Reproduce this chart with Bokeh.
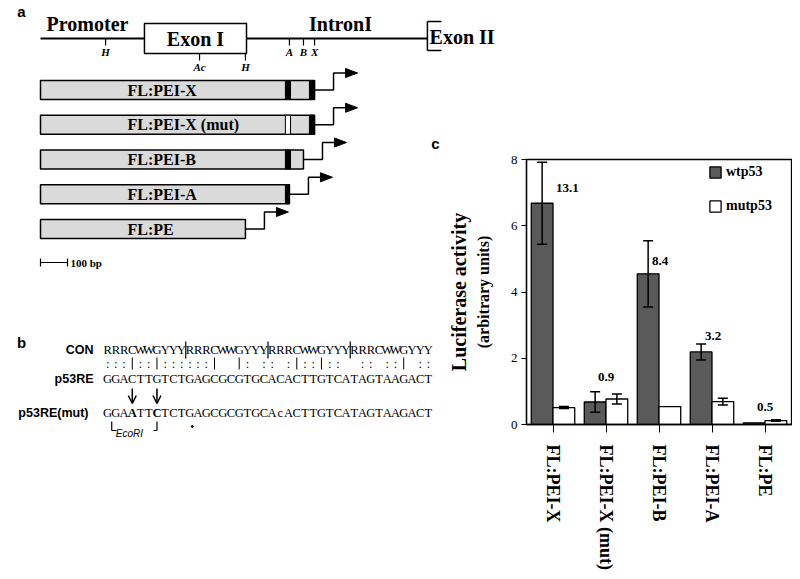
import numpy as np
from bokeh.plotting import figure
from bokeh.layouts import column, row
from bokeh.models import (Range1d, FactorRange, ColumnDataSource, Whisker, TeeHead,
                          Arrow, OpenHead, Legend, LegendItem, LinearAxis, FixedTicker)
from bokeh.transform import dodge
from bokeh.core.properties import value, field
from bokeh.embed import file_html
from bokeh.resources import INLINE

SERIF = value("Liberation Serif")
SANS = value("Liberation Sans")

# ---------------- data: panel c ----------------
constructs = ["FL:PEI-X", "FL:PEI-X (mut)", "FL:PEI-B", "FL:PEI-A", "FL:PE"]
wt_mean = [6.68, 0.68, 4.55, 2.19, 0.05]
wt_err = [1.24, 0.31, 1.00, 0.24, 0.0]
mut_mean = [0.51, 0.77, 0.54, 0.69, 0.12]
mut_err = [0.03, 0.15, 0.0, 0.10, 0.02]
fold_labels = ["13.1", "0.9", "8.4", "3.2", "0.5"]
fold_label_y = [7.15, 1.43, 4.95, 2.66, 0.52]
fold_label_dx = [0.27, 0.0, 0.02, 0.02, 0.0]
y_ticks = [0, 2, 4, 6, 8]
series_names = ["wtp53", "mutp53"]

# ---------------- data: panel a (bp) ----------------
exon1_bp = [385, 763]
exon2_bp = 1433
site_names = ["H", "Ac", "H", "A", "B", "X"]
site_bp = [241, 589, 759, 922, 974, 1015]
construct_end_bp = [1015, 1015, 974, 922, 759]
p53re_bp = [907, 926]
p53re_mutated = [False, True, False, False, False]
xsite_box_bp = [996, 1015]
scale_bar_bp = 100

# ---------------- data: panel b ----------------
con_seq = "RRRCWWGYYY" * 4
p53re_seq = "GGACTTGTCTGAGCGCGTGCACACTTGTCATAGTAAGACT"
p53re_mut_seq = "GGAATTCTCTGAGCGCGTGCAcACTTGTCATAGTAAGACT"
iupac = {"R": "AG", "Y": "CT", "W": "AT", "A": "A", "C": "C", "G": "G", "T": "T"}

# ---------------- layout helpers (page pixel geometry) ----------------
PX_PER_BP = 0.27
BP0_X = 40.0


def bp(x):
    return (x - BP0_X) / PX_PER_BP


CH_X0 = 103.0
CH_W = 8.225


def ch(x):
    return (x - CH_X0) / CH_W


def canvas(w, h, xr, ytop, ybot):
    f = figure(width=w, height=h, x_range=Range1d(*xr), y_range=Range1d(ybot, ytop),
               x_axis_type=None, y_axis_type=None, output_backend="svg",
               toolbar_location=None, min_border=0, outline_line_color=None)
    return f


SPLIT_X, SPLIT_Y1, SPLIT_Y2, BOTTOM, RIGHT = 444, 135, 300, 575, 792
T = canvas(RIGHT, SPLIT_Y1, (bp(0), bp(RIGHT)), 0, SPLIT_Y1)
L1 = canvas(SPLIT_X, SPLIT_Y2 - SPLIT_Y1, (bp(0), bp(SPLIT_X)), SPLIT_Y1, SPLIT_Y2)
L2 = canvas(SPLIT_X, BOTTOM - SPLIT_Y2, (ch(0), ch(SPLIT_X)), SPLIT_Y2, BOTTOM)

BLACK = "black"

# ---------------- panel a : gene map ----------------
MAP_Y, EX_T, EX_B = 38, 23, 53
T.text(x=[bp(21)], y=[11], text=["a"], text_font=SANS, text_font_style="bold", text_color=BLACK,
       text_font_size="15px", text_align="center", text_baseline="middle")
T.segment(x0=[0, exon1_bp[1]], y0=[MAP_Y, MAP_Y], x1=[exon1_bp[0], exon2_bp], y1=[MAP_Y, MAP_Y],
          line_color=BLACK, line_width=2)
T.quad(left=[exon1_bp[0]], right=[exon1_bp[1]], top=[EX_T], bottom=[EX_B],
       fill_color="white", line_color=BLACK, line_width=1.5)
br = 14 / PX_PER_BP
T.segment(x0=[exon2_bp, exon2_bp, exon2_bp], y0=[21, 21, 50],
          x1=[exon2_bp, exon2_bp + br, exon2_bp + br], y1=[50, 21, 50],
          line_color=BLACK, line_width=1.5)
T.text(x=[bp(87), (exon1_bp[0] + exon1_bp[1]) / 2, bp(340)], y=[23, MAP_Y, 23],
       text=["Promoter", "Exon I", "IntronI"], text_font=SERIF, text_font_style="bold",
       text_color=BLACK, text_font_size="20px", text_align="center", text_baseline="middle")
T.text(x=[exon2_bp + 8], y=[36], text=["Exon II"], text_font=SERIF, text_font_style="bold",
       text_color=BLACK, text_font_size="20px", text_align="left", text_baseline="middle")
on_exon = [exon1_bp[0] < s <= exon1_bp[1] + 5 for s in site_bp]
tick_y0 = [EX_B if e else MAP_Y for e in on_exon]
tick_y1 = [y + 7 for y in tick_y0]
lab_y = [y + 13 for y in tick_y0]
T.segment(x0=site_bp, x1=site_bp, y0=tick_y0, y1=tick_y1, line_color=BLACK, line_width=1.2)
T.text(x=site_bp, y=lab_y, text=site_names, text_font=SERIF, text_font_style="bold italic",
       text_color=BLACK, text_font_size="11px", text_align="center", text_baseline="middle")

# ---------------- panel a : constructs ----------------
ROW0, ROWSTEP, BAR_H = 89.5, 34.75, 19
STEP1, RISE, TIP, HEAD, HEAD_H = 19 / PX_PER_BP, 17, 43 / PX_PER_BP, 12 / PX_PER_BP, 4.5


def draw_constructs(f, idx):
    yc = [ROW0 + ROWSTEP * i for i in idx]
    ends = [construct_end_bp[i] for i in idx]
    f.quad(left=[0] * len(idx), right=ends, top=[y - BAR_H / 2 for y in yc],
           bottom=[y + BAR_H / 2 for y in yc], fill_color="#dadada", line_color=BLACK, line_width=1.5)
    el, er, et, eb, ec = [], [], [], [], []
    for i, y, e in zip(idx, yc, ends):
        if p53re_bp[0] < e:
            el.append(p53re_bp[0]); er.append(min(p53re_bp[1], e))
            et.append(y - BAR_H / 2); eb.append(y + BAR_H / 2)
            ec.append("white" if p53re_mutated[i] else BLACK)
        if xsite_box_bp[0] < e:
            el.append(xsite_box_bp[0]); er.append(min(xsite_box_bp[1], e))
            et.append(y - BAR_H / 2); eb.append(y + BAR_H / 2)
            ec.append(BLACK)
    if el:
        f.quad(left=el, right=er, top=et, bottom=eb, fill_color=ec, line_color=BLACK, line_width=1)
    f.text(x=[bp(127)] * len(idx), y=yc, text=[constructs[i] for i in idx], text_font=SERIF,
           text_font_style="bold", text_color=BLACK, text_font_size="16px",
           text_align="left", text_baseline="middle")
    xs = [[e, e + STEP1, e + STEP1, e + TIP - HEAD] for e in ends]
    ys = [[y, y, y - RISE, y - RISE] for y in yc]
    f.multi_line(xs=xs, ys=ys, line_color=BLACK, line_width=1.5)
    hx = [[e + TIP, e + TIP - HEAD, e + TIP - HEAD] for e in ends]
    hy = [[y - RISE, y - RISE - HEAD_H, y - RISE + HEAD_H] for y in yc]
    f.patches(xs=hx, ys=hy, fill_color=BLACK, line_color=BLACK, line_width=1)


draw_constructs(T, [0, 1])
draw_constructs(L1, [2, 3, 4])

SB_Y = 262
L1.segment(x0=[0, 0, scale_bar_bp], y0=[SB_Y, SB_Y - 4, SB_Y - 4],
           x1=[scale_bar_bp, 0, scale_bar_bp], y1=[SB_Y, SB_Y + 4, SB_Y + 4],
           line_color=BLACK, line_width=1.2)
L1.text(x=[scale_bar_bp + 11], y=[SB_Y], text=["%d bp" % scale_bar_bp], text_font=SERIF,
        text_font_style="bold", text_color=BLACK, text_font_size="11px",
        text_align="left", text_baseline="middle")
L1.text(x=[bp(435)], y=[143], text=["c"], text_font=SANS, text_font_style="bold",
        text_color=BLACK, text_font_size="15px", text_align="center", text_baseline="middle")

# ---------------- panel b : sequences ----------------
Y_CON, Y_MARK, Y_RE, Y_MUT = 349, 363, 378, 412
n = len(con_seq)
pos = list(np.arange(n) + 0.5)
marks = []
for c, s in zip(con_seq, p53re_seq):
    if c in "ACGT" and c == s:
        marks.append("|")
    elif s in iupac[c]:
        marks.append(":")
    else:
        marks.append(" ")
mut_style = ["bold" if m.upper() != s else "normal" for m, s in zip(p53re_mut_seq, p53re_seq)]

L2.text(x=[ch(21)], y=[342], text=["b"], text_font=SANS, text_font_style="bold", text_color=BLACK,
        text_font_size="15px", text_align="center", text_baseline="middle")
L2.text(x=[ch(93), ch(93), ch(88)], y=[Y_CON, Y_RE, Y_MUT], text=["CON", "p53RE", "p53RE(mut)"],
        text_font=SANS, text_font_style="bold", text_color=BLACK, text_font_size="12.5px",
        text_align="right", text_baseline="middle")
seq_kw = dict(text_font=SERIF, text_font_size="12.5px", text_color=BLACK,
              text_align="center", text_baseline="middle")
L2.text(x=pos, y=[Y_CON] * n, text=list(con_seq), **seq_kw)
colon_x = [p for p, m in zip(pos, marks) if m == ":"]
bar_x = [p for p, m in zip(pos, marks) if m == "|"]
L2.text(x=colon_x, y=[Y_MARK] * len(colon_x), text=[":"] * len(colon_x), **seq_kw)
L2.segment(x0=bar_x, x1=bar_x, y0=[Y_MARK - 6] * len(bar_x), y1=[Y_MARK + 6] * len(bar_x),
           line_color=BLACK, line_width=1)
L2.text(x=pos, y=[Y_RE] * n, text=list(p53re_seq), **seq_kw)
src_mut = ColumnDataSource(dict(x=pos, y=[Y_MUT] * n, t=list(p53re_mut_seq), fs=mut_style))
L2.text(x="x", y="y", text="t", text_font_style=field("fs"), source=src_mut, **seq_kw)
L2.segment(x0=[10, 20, 30], x1=[10, 20, 30], y0=[341] * 3, y1=[358] * 3,
           line_color=BLACK, line_width=1.2)
for i, (m, s) in enumerate(zip(p53re_mut_seq, p53re_seq)):
    if m.upper() != s:
        L2.add_layout(Arrow(x_start=i + 0.5, y_start=388, x_end=i + 0.5, y_end=403,
                            line_width=1.5, line_color=BLACK,
                            end=OpenHead(size=8, line_width=1.5, line_color=BLACK)))
eco0, eco1 = 1.0, 6.5
L2.segment(x0=[eco0, eco0, eco1, eco1], y0=[421, 430, 421, 430],
           x1=[eco0, eco0 + 0.6, eco1, eco1 - 0.4], y1=[430, 430, 430, 430],
           line_color=BLACK, line_width=1.2)
L2.text(x=[eco0 + 0.5], y=[433], text=["EcoRI"], text_font=SANS, text_font_style="italic",
        text_color=BLACK, text_font_size="10px", text_align="left", text_baseline="middle")
L2.scatter(x=[10.8], y=[426], size=2, color=BLACK)

# ---------------- panel c : bar chart ----------------
FRAME_L, FRAME_R, FRAME_T, FRAME_B = 526, 791, 159, 424
src = ColumnDataSource(dict(cat=constructs, wt=wt_mean, mut=mut_mean))
pc = figure(width=RIGHT - SPLIT_X, height=BOTTOM - SPLIT_Y1,
            x_range=FactorRange(*constructs), y_range=Range1d(0, 8),
            output_backend="svg", toolbar_location=None,
            min_border_left=FRAME_L - SPLIT_X, min_border_right=RIGHT - FRAME_R,
            min_border_top=FRAME_T - SPLIT_Y1, min_border_bottom=BOTTOM - FRAME_B)
pc.grid.visible = False
pc.outline_line_color = BLACK
pc.outline_line_width = 1.3

BW, OFF = 0.41, 0.205
r_wt = pc.vbar(x=dodge("cat", -OFF, range=pc.x_range), top="wt", width=BW, source=src,
               fill_color="#5a5a5a", line_color=BLACK, line_width=1.3)
r_mut = pc.vbar(x=dodge("cat", OFF, range=pc.x_range), top="mut", width=BW, source=src,
                fill_color="white", line_color=BLACK, line_width=1.3)

for means, errs, off in [(wt_mean, wt_err, -OFF), (mut_mean, mut_err, OFF)]:
    keep = [i for i in range(len(constructs)) if errs[i] > 0]
    es = ColumnDataSource(dict(cat=[constructs[i] for i in keep],
                               lo=[means[i] - errs[i] for i in keep],
                               hi=[means[i] + errs[i] for i in keep]))
    w = Whisker(source=es, base=dodge("cat", off, range=pc.x_range), lower="lo", upper="hi",
                dimension="height", line_color=BLACK, line_width=1.5, level="annotation",
                upper_head=TeeHead(size=10, line_width=1.5, line_color=BLACK),
                lower_head=TeeHead(size=10, line_width=1.5, line_color=BLACK))
    pc.add_layout(w)

for i in range(len(constructs)):
    s = ColumnDataSource(dict(cat=[constructs[i]], y=[fold_label_y[i]], t=[fold_labels[i]]))
    pc.text(x=dodge("cat", fold_label_dx[i], range=pc.x_range), y="y", text="t", source=s,
            text_font=SERIF, text_font_style="bold", text_font_size="13px", text_color=BLACK,
            text_align="center", text_baseline="middle")

yax = pc.yaxis[0]
yax.ticker = FixedTicker(ticks=y_ticks)
yax.major_tick_out = 5
yax.major_tick_in = 0
yax.minor_tick_out = 0
yax.minor_tick_in = 0
yax.axis_line_width = 1.3
yax.major_label_text_font = "Liberation Serif"
yax.major_label_text_font_size = "13px"
yax.major_label_text_color = BLACK
yax.major_label_standoff = 4
yax.axis_label = "(arbitrary units)"
yax.axis_label_text_font = "Liberation Serif"
yax.axis_label_text_font_style = "bold"
yax.axis_label_text_font_size = "16px"
yax.axis_label_text_color = BLACK
yax.axis_label_standoff = 16

outer = LinearAxis(ticker=FixedTicker(ticks=[]), axis_label="Luciferase activity",
                   axis_line_color=None, major_tick_out=0, major_tick_in=0,
                   minor_tick_out=0, minor_tick_in=0, major_label_standoff=0,
                   axis_label_standoff=2, axis_label_text_font="Liberation Serif",
                   axis_label_text_font_style="bold", axis_label_text_font_size="20px",
                   axis_label_text_color=BLACK)
pc.add_layout(outer, "left")

xax = pc.xaxis[0]
xax.major_label_orientation = "vertical"
xax.major_label_text_font = "Liberation Serif"
xax.major_label_text_font_style = "bold"
xax.major_label_text_font_size = "18px"
xax.major_label_text_color = BLACK
xax.major_tick_out = 8
xax.major_tick_in = 0
xax.major_label_standoff = 12
xax.axis_line_width = 1.5

LEG_PAD = 3
leg = Legend(items=[LegendItem(label=series_names[0], renderers=[r_wt]),
                    LegendItem(label=series_names[1], renderers=[r_mut])],
             location=(711 - FRAME_L - LEG_PAD, 210), border_line_color=None,
             background_fill_alpha=0, glyph_width=14, glyph_height=14,
             label_text_font="Liberation Serif", label_text_font_style="bold",
             label_text_font_size="14px", label_text_color=BLACK,
             spacing=18, padding=LEG_PAD, margin=0, label_standoff=4, label_height=14)
pc.add_layout(leg)

layout = column(T, row(column(L1, L2), pc))
open("out.html", "w").write(file_html(layout, INLINE, title="Figure"))
